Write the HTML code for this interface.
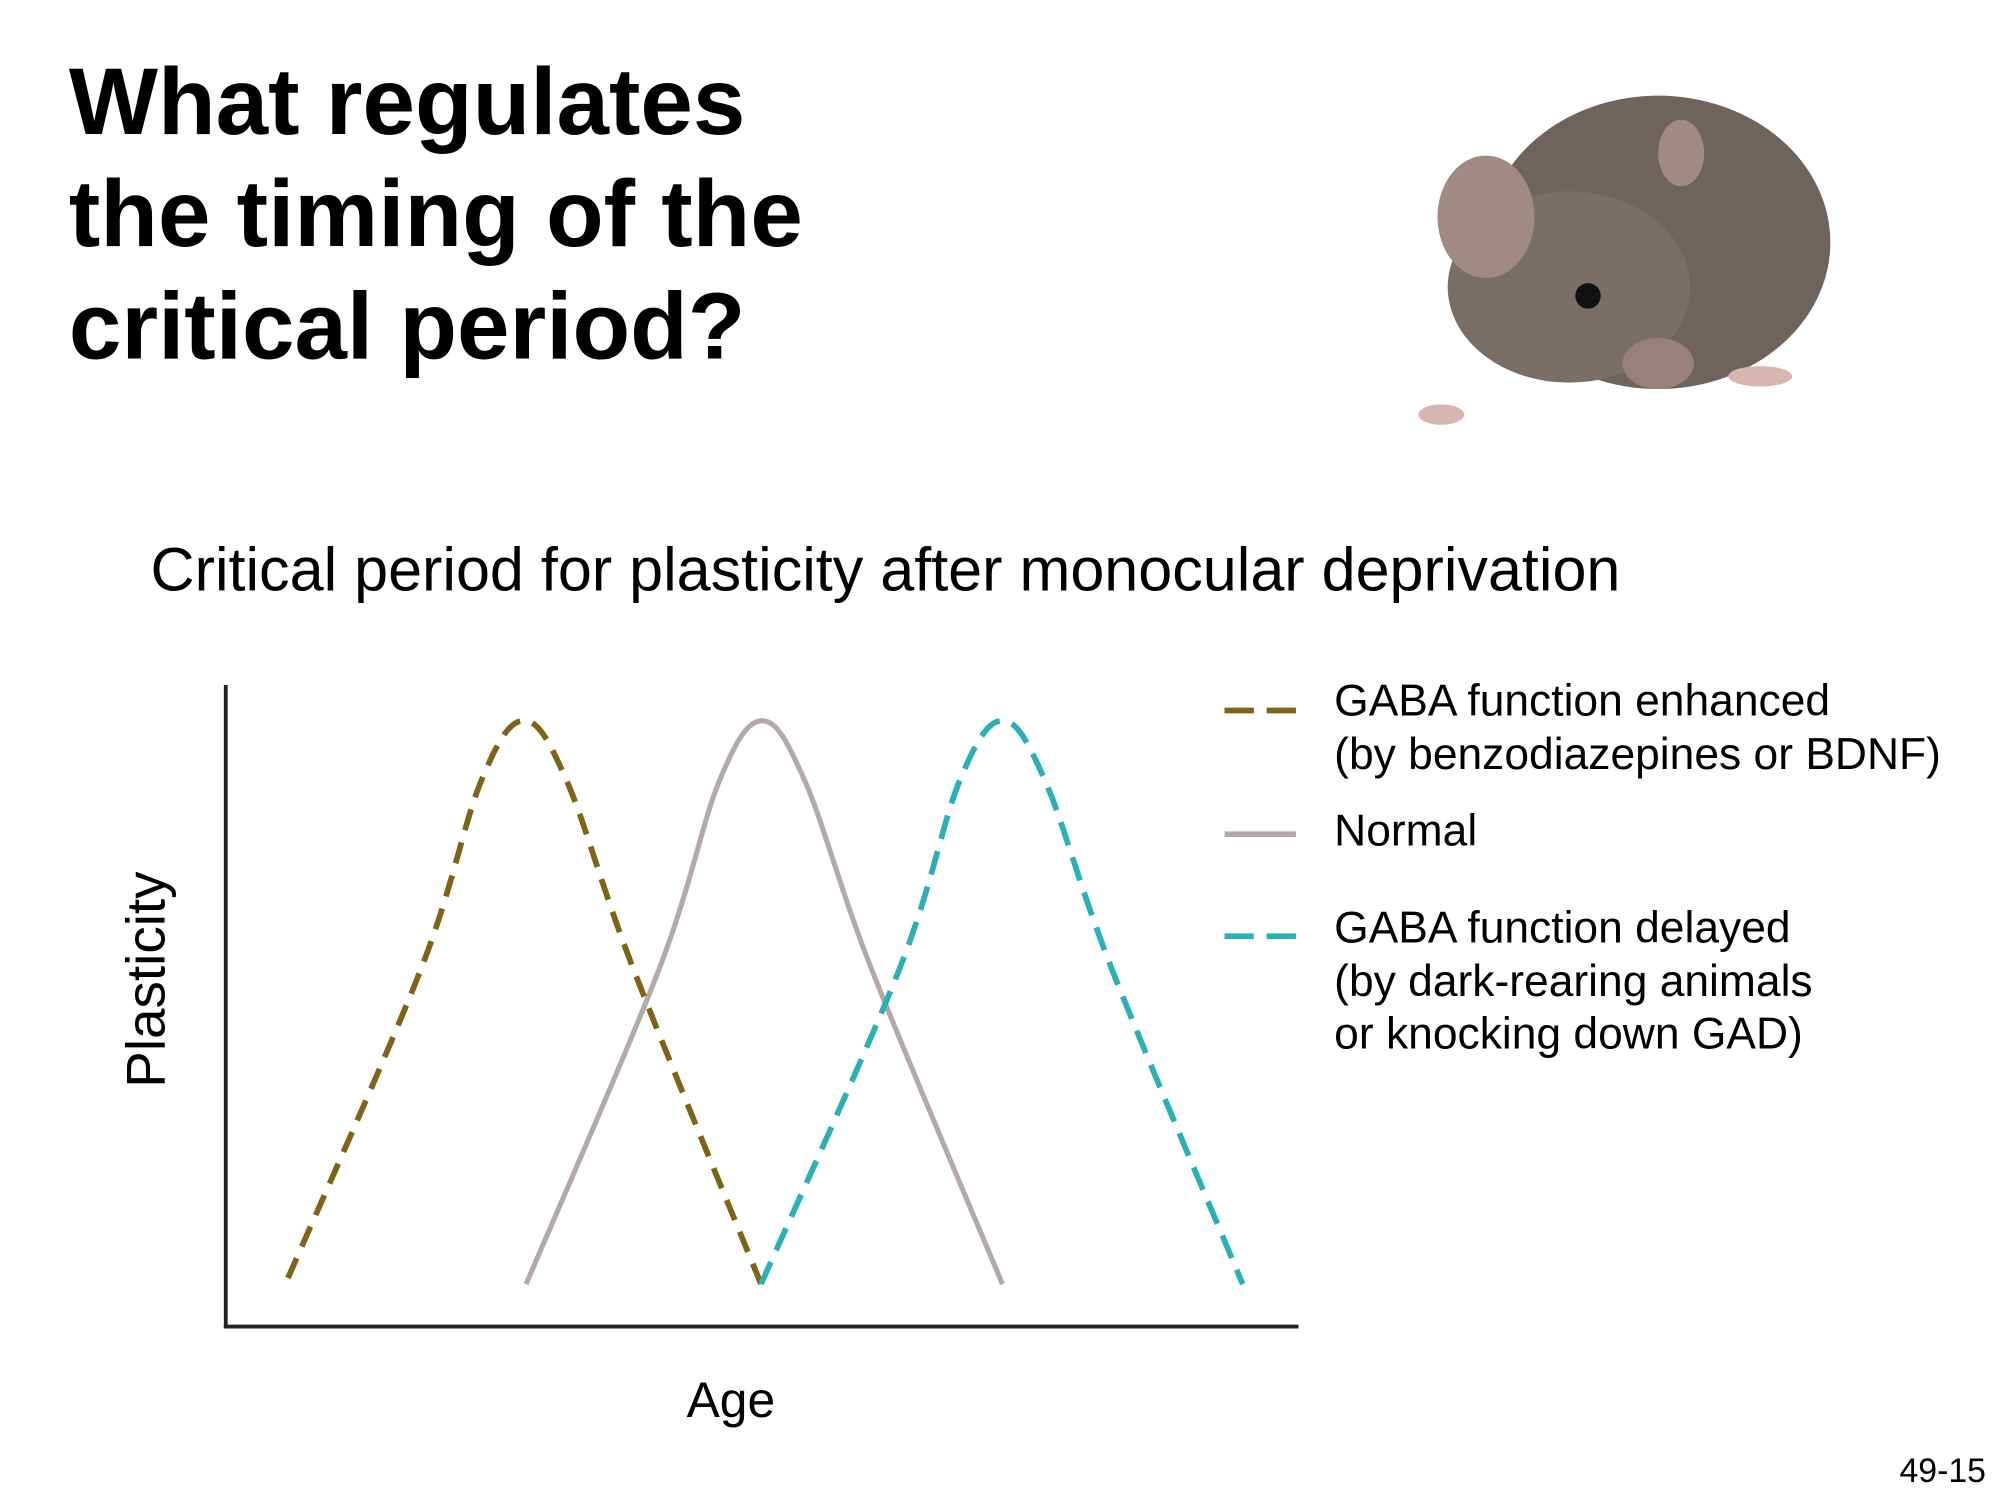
<!DOCTYPE html>
<html><head><meta charset="utf-8">
<style>
html,body{margin:0;padding:0;background:#fff;}
svg{display:block;}
text{font-family:"Liberation Sans",Arial,sans-serif;}
</style></head>
<body>
<svg id="slide" width="2000" height="1500" viewBox="0 0 1568 1176" xmlns="http://www.w3.org/2000/svg">
  <g font-weight="bold" font-size="74" fill="#000">
    <text x="54" y="105">What regulates</text>
    <text x="54" y="193">the timing of the</text>
    <text x="54" y="281">critical period?</text>
  </g>
  <g>
    <ellipse cx="1300" cy="190" rx="135" ry="115" fill="#6e645d"/>
    <ellipse cx="1230" cy="225" rx="95" ry="75" fill="#7a6f67"/>
    <ellipse cx="1165" cy="170" rx="38" ry="48" fill="#a08a83"/>
    <ellipse cx="1318" cy="120" rx="18" ry="26" fill="#a08a83"/>
    <ellipse cx="1300" cy="285" rx="28" ry="20" fill="#9a807c"/>
    <circle cx="1245" cy="232" r="10" fill="#111"/>
    <ellipse cx="1130" cy="325" rx="18" ry="8" fill="#d9b5b0"/>
    <ellipse cx="1380" cy="295" rx="25" ry="8" fill="#d9b5b0"/>
  </g>
  <text x="118" y="463" font-size="47.9" fill="#000">Critical period for plasticity after monocular deprivation</text>
  <g id="plot"></g>
  <text transform="translate(129,768) rotate(-90)" text-anchor="middle" font-size="43" fill="#000">Plasticity</text>
  <text x="573" y="1111" text-anchor="middle" font-size="39" fill="#000">Age</text>
  <g font-size="34.8" fill="#000">
    <line x1="960" y1="557" x2="1016" y2="557" stroke="#7d6416" stroke-width="4.5" stroke-dasharray="23,10"/>
    <text x="1046" y="561">GABA function enhanced</text>
    <text x="1046" y="603">(by benzodiazepines or BDNF)</text>
    <line x1="960" y1="654" x2="1016" y2="654" stroke="#b3aaa8" stroke-width="4.5"/>
    <text x="1046" y="663">Normal</text>
    <line x1="960" y1="734" x2="1016" y2="734" stroke="#2ab0b5" stroke-width="4.5" stroke-dasharray="23,10"/>
    <text x="1046" y="739">GABA function delayed</text>
    <text x="1046" y="781">(by dark-rearing animals</text>
    <text x="1046" y="822">or knocking down GAD)</text>
  </g>
  <text x="1557" y="1162" text-anchor="end" font-size="26.5" fill="#000">49-15</text>
</svg>
<script>
// Data (age units 0..10, plasticity 0..1)
const enhancedAge = [0.58, 1.82, 2.38, 2.78, 3.18, 3.80, 4.99];
const enhancedPl  = [0.08, 0.59, 0.90, 1.00, 0.90, 0.59, 0.07];
const normalAge   = [2.80, 4.04, 4.60, 5.00, 5.40, 6.02, 7.24];
const normalPl    = [0.07, 0.59, 0.90, 1.00, 0.90, 0.59, 0.07];
const delayedAge  = [4.99, 6.28, 6.84, 7.24, 7.64, 8.26, 9.48];
const delayedPl   = [0.07, 0.59, 0.90, 1.00, 0.90, 0.59, 0.07];

const NS = "http://www.w3.org/2000/svg";
const x0 = 177, x1 = 1018, yBase = 1040, yTop = 565;
function xScale(a){ return x0 + a * (x1 - x0) / 10; }
function yScale(p){ return yBase - p * (yBase - yTop); }

const plot = document.getElementById('plot');

function smoothPath(xs, ys){
  const pts = xs.map((a,i)=>[xScale(a), yScale(ys[i])]);
  let d = "M" + pts[0][0] + "," + pts[0][1];
  for (let i=0;i<pts.length-1;i++){
    const p0 = pts[Math.max(0,i-1)], p1 = pts[i], p2 = pts[i+1], p3 = pts[Math.min(pts.length-1,i+2)];
    const c1x = p1[0] + (p2[0]-p0[0])/6, c1y = p1[1] + (p2[1]-p0[1])/6;
    const c2x = p2[0] - (p3[0]-p1[0])/6, c2y = p2[1] - (p3[1]-p1[1])/6;
    d += " C" + c1x + "," + c1y + " " + c2x + "," + c2y + " " + p2[0] + "," + p2[1];
  }
  return d;
}

const normal = document.createElementNS(NS,'path');
normal.setAttribute('d', smoothPath(normalAge, normalPl));
normal.setAttribute('fill','none');
normal.setAttribute('stroke','#b3aaa8');
normal.setAttribute('stroke-width','4');


plot.appendChild(normal);

const enh = document.createElementNS(NS,'path');
enh.setAttribute('d', smoothPath(enhancedAge, enhancedPl));
enh.setAttribute('fill','none');
enh.setAttribute('stroke','#7d6416');
enh.setAttribute('stroke-width','4.5');
enh.setAttribute('stroke-dasharray','17,10');


plot.appendChild(enh);

const del = document.createElementNS(NS,'path');
del.setAttribute('d', smoothPath(delayedAge, delayedPl));
del.setAttribute('fill','none');
del.setAttribute('stroke','#2ab0b5');
del.setAttribute('stroke-width','4.5');
del.setAttribute('stroke-dasharray','19,10');


plot.appendChild(del);

const yAxis = document.createElementNS(NS,'line');
yAxis.setAttribute('x1',x0); yAxis.setAttribute('y1',537);
yAxis.setAttribute('x2',x0); yAxis.setAttribute('y2',yBase+1.5);
yAxis.setAttribute('stroke','#222'); yAxis.setAttribute('stroke-width','3');


plot.appendChild(yAxis);

const xAxis = document.createElementNS(NS,'line');
xAxis.setAttribute('x1',x0-1.5); xAxis.setAttribute('y1',yBase);
xAxis.setAttribute('x2',x1); xAxis.setAttribute('y2',yBase);
xAxis.setAttribute('stroke','#222'); xAxis.setAttribute('stroke-width','3');


plot.appendChild(xAxis);
</script>
</body></html>
